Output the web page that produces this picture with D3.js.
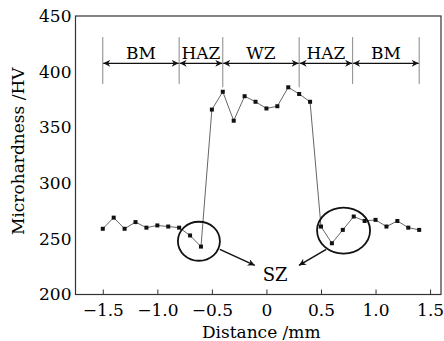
<!DOCTYPE html>
<html>
<head>
<meta charset="utf-8">
<script src="https://cdn.jsdelivr.net/npm/d3@7"></script>
<style>
  body { margin: 0; background: #fff; }
  svg { display: block; }
  text { font-family: "DejaVu Serif", serif; fill: #000; }
</style>
</head>
<body>
<svg id="chart" width="444" height="341"></svg>
<script>
// measured points
const distance = [-1.5, -1.4, -1.3, -1.2, -1.1, -1.0, -0.9, -0.8, -0.7, -0.6,
    -0.5, -0.4, -0.3, -0.2, -0.1, 0, 0.1, 0.2, 0.3, 0.4,
    0.5, 0.6, 0.7, 0.8, 0.9, 1.0, 1.1, 1.2, 1.3, 1.4];
const hardness = [259, 269, 259, 265, 260, 262, 261, 260, 253, 243,
    366, 382, 356, 378, 373, 367, 369, 386, 380, 373,
    261, 246, 258, 270, 266, 267, 261, 266, 260, 258];

// zones
const zoneBounds = [-1.5, -0.8, -0.4, 0.3, 0.79, 1.4];
const zoneLabels = ["BM", "HAZ", "WZ", "HAZ", "BM"];

const xTicks = [-1.5, -1.0, -0.5, 0, 0.5, 1.0, 1.5];
const yTicks = [200, 250, 300, 350, 400, 450];

const svg = d3.select("#chart");
const plotL = 75.5, plotR = 441, plotT = 16, plotB = 294.5;

const x = d3.scaleLinear().domain([-1.75, 1.6]).range([plotL, plotR]);
const y = d3.scaleLinear().domain([200, 450]).range([plotB, plotT]);

let defs = svg.append("defs");
defs.append("marker")
    .attr("id", "head")
    .attr("viewBox", "0 0 10 10")
    .attr("refX", 10).attr("refY", 5)
    .attr("markerWidth", 11).attr("markerHeight", 7)
    .attr("markerUnits", "userSpaceOnUse")
    .attr("orient", "auto-start-reverse")
    .append("path")
    .attr("d", "M0,0 L10,5 L0,10 L3,5 Z")
    .attr("fill", "#111");

// frame
svg.append("rect")
    .attr("x", plotL).attr("y", plotT)
    .attr("width", plotR - plotL).attr("height", plotB - plotT)
    .attr("fill", "none").attr("stroke", "#333").attr("stroke-width", 1.2);

// x axis, ticks inward
let xAxis = svg.append("g")
    .attr("transform", "translate(0," + plotB + ")")
    .call(d3.axisBottom(x).tickValues(xTicks).tickSizeInner(-5).tickSizeOuter(0)
        .tickFormat(d => d === 0 ? "0" : d3.format(".1f")(d).replace("-", "\u2212")));
xAxis.select(".domain").remove();
xAxis.selectAll("line").attr("stroke", "#333");
xAxis.selectAll("text").attr("font-size", 17).attr("y", 9)
    .attr("font-family", "DejaVu Serif").attr("fill", "#000");

// y axis, no ticks
let yAxis = svg.append("g")
    .attr("transform", "translate(" + plotL + ",0)")
    .call(d3.axisLeft(y).tickValues(yTicks).tickSize(0));
yAxis.select(".domain").remove();
yAxis.selectAll("text").attr("font-size", 17).attr("x", -4)
    .attr("font-family", "DejaVu Serif").attr("fill", "#000");

svg.append("text")
    .attr("transform", "translate(24," + ((plotT + plotB) / 2 - 4) + ") rotate(-90)")
    .attr("text-anchor", "middle")
    .attr("font-size", 17)
    .text("Microhardness /HV");

svg.append("text")
    .attr("x", (plotL + plotR) / 2 + 3).attr("y", 338)
    .attr("text-anchor", "middle")
    .attr("font-size", 17)
    .text("Distance /mm");

// zone separators
svg.selectAll(".sep")
    .data(zoneBounds)
    .enter().append("line")
    .attr("class", "sep")
    .attr("x1", d => x(d)).attr("x2", d => x(d))
    .attr("y1", y(431)).attr("y2", (d, i) => i === 2 || i === 3 ? y(386) : y(389))
    .attr("stroke", "#888").attr("stroke-width", 1);

let zones = d3.pairs(zoneBounds);
svg.selectAll(".zarrow")
    .data(zones)
    .enter().append("line")
    .attr("class", "zarrow")
    .attr("x1", d => x(d[0]) + 0.5).attr("x2", d => x(d[1]) - 0.5)
    .attr("y1", y(407.5)).attr("y2", y(407.5))
    .attr("stroke", "#111").attr("stroke-width", 1.3)
    .attr("marker-start", "url(#head)")
    .attr("marker-end", "url(#head)");

svg.selectAll(".zlabel")
    .data(zones)
    .enter().append("text")
    .attr("class", "zlabel")
    .attr("x", d => (x(d[0]) + x(d[1])) / 2)
    .attr("y", y(411))
    .attr("text-anchor", "middle")
    .attr("font-size", 17)
    .text((d, i) => zoneLabels[i]);

// data line
let pts = distance.map((d, i) => [d, hardness[i]]);
svg.append("path")
    .datum(pts)
    .attr("fill", "none")
    .attr("stroke", "#666")
    .attr("stroke-width", 1)
    .attr("d", d3.line().x(d => x(d[0])).y(d => y(d[1])));

svg.selectAll(".pt")
    .data(pts)
    .enter().append("rect")
    .attr("class", "pt")
    .attr("x", d => x(d[0]) - 2).attr("y", d => y(d[1]) - 2)
    .attr("width", 4).attr("height", 4)
    .attr("fill", "#111");

// SZ circles
let circles = [
    { cx: -0.619, cy: 247.8, rx: 21, ry: 19.5 },
    { cx: 0.707, cy: 257.4, rx: 26.5, ry: 23 }
];
svg.selectAll(".sz")
    .data(circles)
    .enter().append("ellipse")
    .attr("class", "sz")
    .attr("cx", d => x(d.cx)).attr("cy", d => y(d.cy))
    .attr("rx", d => d.rx).attr("ry", d => d.ry)
    .attr("fill", "none").attr("stroke", "#111").attr("stroke-width", 1.8);

let szArrows = [
    { from: [-0.427, 240.5], to: [-0.107, 226.2] },
    { from: [0.548, 240.5], to: [0.298, 226.2] }
];
svg.selectAll(".szarrow")
    .data(szArrows)
    .enter().append("line")
    .attr("class", "szarrow")
    .attr("x1", d => x(d.from[0])).attr("y1", d => y(d.from[1]))
    .attr("x2", d => x(d.to[0])).attr("y2", d => y(d.to[1]))
    .attr("stroke", "#111").attr("stroke-width", 1.5)
    .attr("marker-end", "url(#head)");

svg.append("text")
    .attr("x", x(0.08)).attr("y", y(212.5))
    .attr("text-anchor", "middle")
    .attr("font-size", 18)
    .text("SZ");
</script>
</body>
</html>
